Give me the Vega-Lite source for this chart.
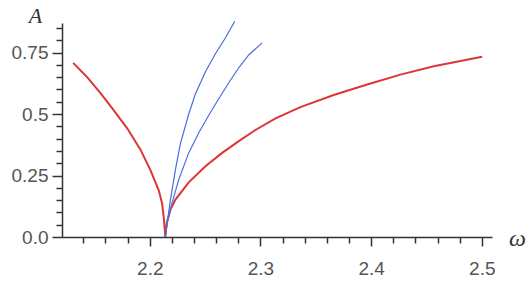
{
  "$schema": "https://vega.github.io/schema/vega-lite/v6.json",
  "width": 430,
  "height": 214,
  "autosize": "none",
  "padding": {"left": 62, "top": 23, "right": 34, "bottom": 52},
  "background": "white",
  "config": {"view": {"stroke": null}, "axis": {"labelOverlap": false, "labelFlush": false}},
  "datasets": {
    "red": [
      {"w": 2.1308, "A": 0.708}, {"w": 2.1434, "A": 0.65}, {"w": 2.1555, "A": 0.585},
      {"w": 2.1675, "A": 0.515}, {"w": 2.1796, "A": 0.442}, {"w": 2.1916, "A": 0.355},
      {"w": 2.2006, "A": 0.272}, {"w": 2.2081, "A": 0.19}, {"w": 2.2112, "A": 0.135},
      {"w": 2.2126, "A": 0.08}, {"w": 2.2135, "A": 0.035}, {"w": 2.214, "A": 0.0},
      {"w": 2.2155, "A": 0.06}, {"w": 2.2187, "A": 0.112}, {"w": 2.2232, "A": 0.152},
      {"w": 2.2352, "A": 0.222}, {"w": 2.2503, "A": 0.288}, {"w": 2.2654, "A": 0.342},
      {"w": 2.2804, "A": 0.39}, {"w": 2.2955, "A": 0.435}, {"w": 2.3136, "A": 0.482},
      {"w": 2.3361, "A": 0.528}, {"w": 2.3662, "A": 0.577}, {"w": 2.3964, "A": 0.62},
      {"w": 2.4265, "A": 0.66}, {"w": 2.4566, "A": 0.694}, {"w": 2.5003, "A": 0.733}
    ],
    "blue": [
      {"c": "b1", "w": 2.214, "A": 0.0}, {"c": "b1", "w": 2.2165, "A": 0.08},
      {"c": "b1", "w": 2.2187, "A": 0.152}, {"c": "b1", "w": 2.2232, "A": 0.274},
      {"c": "b1", "w": 2.2277, "A": 0.38}, {"c": "b1", "w": 2.2352, "A": 0.5},
      {"c": "b1", "w": 2.2413, "A": 0.582}, {"c": "b1", "w": 2.2503, "A": 0.672},
      {"c": "b1", "w": 2.2593, "A": 0.745}, {"c": "b1", "w": 2.2684, "A": 0.81},
      {"c": "b1", "w": 2.2768, "A": 0.877},
      {"c": "b2", "w": 2.214, "A": 0.0}, {"c": "b2", "w": 2.2157, "A": 0.058},
      {"c": "b2", "w": 2.2202, "A": 0.139}, {"c": "b2", "w": 2.2262, "A": 0.234},
      {"c": "b2", "w": 2.2352, "A": 0.342}, {"c": "b2", "w": 2.2443, "A": 0.424},
      {"c": "b2", "w": 2.2533, "A": 0.495}, {"c": "b2", "w": 2.2623, "A": 0.562},
      {"c": "b2", "w": 2.2714, "A": 0.627}, {"c": "b2", "w": 2.2804, "A": 0.688},
      {"c": "b2", "w": 2.2894, "A": 0.74}, {"c": "b2", "w": 2.3015, "A": 0.789}
    ]
  },
  "encoding": {
    "x": {
      "field": "w", "type": "quantitative",
      "scale": {"domain": [2.1207, 2.5092], "nice": false, "zero": false},
      "axis": {
        "values": [2.14, 2.16, 2.18, 2.2, 2.22, 2.24, 2.26, 2.28, 2.3, 2.32, 2.34, 2.36, 2.38, 2.4, 2.42, 2.44, 2.46, 2.48, 2.5],
        "labelExpr": "abs(datum.value*10-round(datum.value*10))<0.001 ? format(datum.value,'.1f') : ''",
        "grid": false,
        "domainColor": "#333", "domainWidth": 1.5,
        "tickColor": "#333", "tickWidth": 1.5,
        "tickSize": {"condition": {"test": "abs(datum.value*10-round(datum.value*10))<0.001", "value": 9}, "value": 6},
        "labelPadding": 13,
        "labelFont": "Liberation Sans", "labelFontSize": 19, "labelColor": "#555",
        "labelFlush": false, "labelOverlap": false,
        "title": "ω",
        "titleFont": "Liberation Serif", "titleFontStyle": "italic", "titleFontWeight": "normal",
        "titleFontSize": 24, "titleColor": "#333",
        "titleAngle": 0, "titleAlign": "center", "titleBaseline": "alphabetic",
        "titleX": 455, "titleY": 8
      }
    },
    "y": {
      "field": "A", "type": "quantitative",
      "scale": {"domain": [0, 0.87], "nice": false, "zero": false},
      "axis": {
        "values": [0, 0.05, 0.1, 0.15, 0.2, 0.25, 0.3, 0.35, 0.4, 0.45, 0.5, 0.55, 0.6, 0.65, 0.7, 0.75, 0.8, 0.85],
        "labelExpr": "abs(datum.value*4-round(datum.value*4))<0.001 ? (datum.value==0 ? '0.0' : toString(datum.value)) : ''",
        "grid": false,
        "domainColor": "#333", "domainWidth": 1.5,
        "tickColor": "#333", "tickWidth": 1.5,
        "tickSize": {"condition": {"test": "abs(datum.value*4-round(datum.value*4))<0.001", "value": 10}, "value": 6},
        "labelPadding": 4,
        "labelFont": "Liberation Sans", "labelFontSize": 19, "labelColor": "#555",
        "labelFlush": false, "labelOverlap": false,
        "title": "A",
        "titleFont": "Liberation Serif", "titleFontStyle": "italic", "titleFontWeight": "normal",
        "titleFontSize": 22, "titleColor": "#333",
        "titleAngle": 0, "titleAlign": "center", "titleBaseline": "alphabetic",
        "titleX": -27, "titleY": -1
      }
    }
  },
  "layer": [
    {
      "data": {"name": "red"},
      "mark": {"type": "line", "color": "#dd3535", "strokeWidth": 2, "clip": false}
    },
    {
      "data": {"name": "blue"},
      "mark": {"type": "line", "color": "#4a6ee0", "strokeWidth": 1.2, "clip": false},
      "encoding": {
        "detail": {"field": "c", "type": "nominal"}
      }
    }
  ]
}
